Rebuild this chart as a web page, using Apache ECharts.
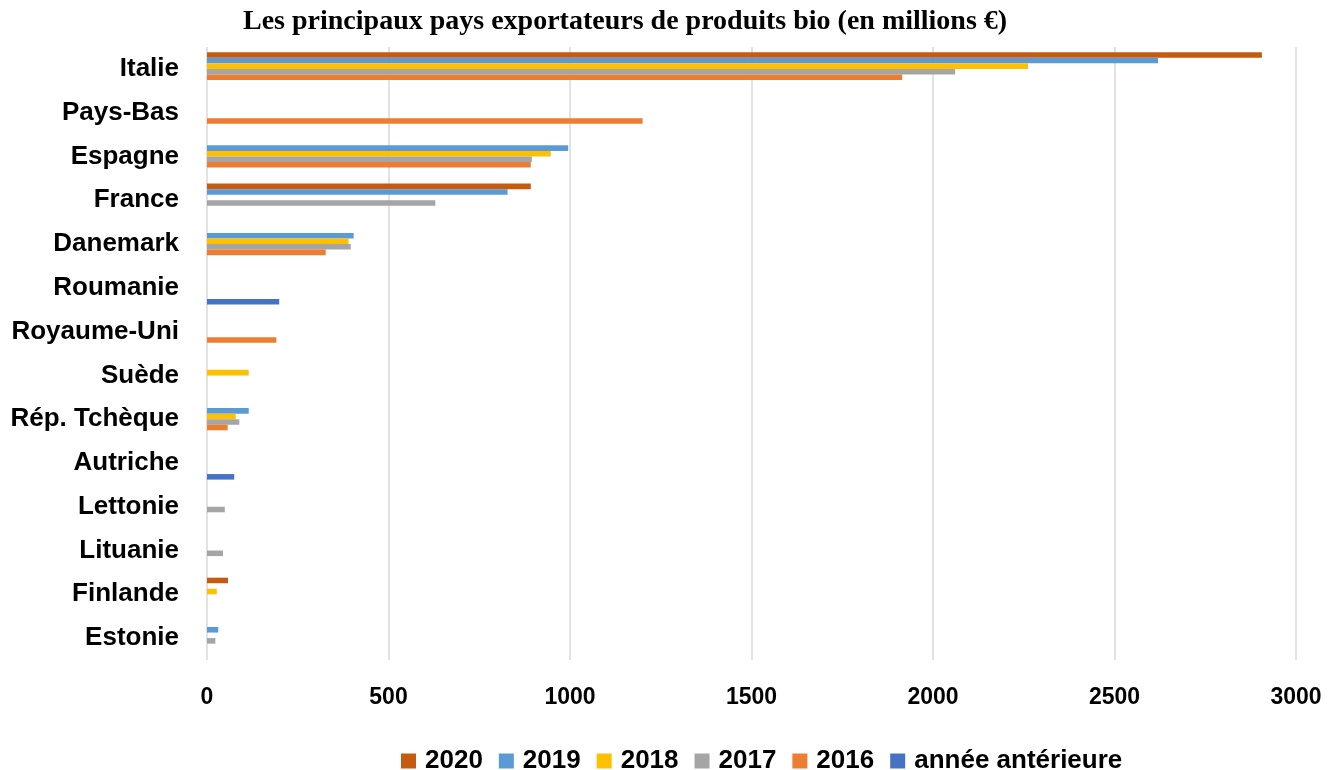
<!DOCTYPE html>
<html>
<head>
<meta charset="utf-8">
<script src="https://cdn.jsdelivr.net/npm/echarts@6/dist/echarts.min.js"></script>
<style>
  html, body { margin: 0; padding: 0; background: #fff; }
  #main { width: 1342px; height: 770px; }
</style>
</head>
<body>
<div id="main"></div>
<script>
// categories, top to bottom
var countries = ['Italie', 'Pays-Bas', 'Espagne', 'France', 'Danemark', 'Roumanie', 'Royaume-Uni',
  'Suède', 'Rép. Tchèque', 'Autriche', 'Lettonie', 'Lituanie', 'Finlande', 'Estonie'];

var seriesNames = ['2020', '2019', '2018', '2017', '2016', 'année antérieure'];
var seriesColors = ['#c55a11', '#5b9bd5', '#ffc000', '#a5a5a5', '#ed7d31', '#4472c4'];

// values in millions €, null = no bar
var v2020 = [2906, null, null, 892, null, null, null, null, null, null, null, null, 58, null];
var v2019 = [2620, null, 995, 828, 404, null, null, null, 115, null, null, null, null, 31];
var v2018 = [2262, null, 947, null, 390, null, null, 115, 79, null, null, null, 27, null];
var v2017 = [2061, null, 895, 629, 396, null, null, null, 89, null, 49, 44, null, 23];
var v2016 = [1915, 1200, 892, null, 327, null, 191, null, 57, null, null, null, null, null];
var vAnt  = [null, null, null, null, null, 199, null, null, null, 75, null, null, null, null];

var xTicks = [0, 500, 1000, 1500, 2000, 2500, 3000];

var seriesData = [v2020, v2019, v2018, v2017, v2016, vAnt];

var myChart = echarts.init(document.getElementById('main'));

var labelFont = "'Liberation Sans', Arial, sans-serif";

var series = seriesNames.map(function (name, i) {
  return {
    name: name,
    type: 'bar',
    data: seriesData[i],
    itemStyle: { color: seriesColors[i] },
    barGap: 0,
    barCategoryGap: '24%',
    animation: false
  };
});

var option = {
  backgroundColor: '#fff',
  title: {
    text: 'Les principaux pays exportateurs de produits bio (en millions €)',
    left: 238,
    top: 3,
    textStyle: {
      fontFamily: "'Liberation Serif', 'DejaVu Serif', serif",
      fontWeight: 'bold',
      fontSize: 28,
      color: '#000'
    }
  },
  legend: {
    data: seriesNames,
    left: 396,
    top: 743,
    itemWidth: 15,
    itemHeight: 15,
    itemGap: 16,
    icon: 'rect',
    textStyle: {
      fontFamily: labelFont,
      fontWeight: 'bold',
      fontSize: 26,
      color: '#000',
      padding: [0, 0, 0, 4]
    }
  },
  grid: {
    left: 207,
    right: 46,
    top: 47,
    bottom: 110,
    containLabel: false
  },
  xAxis: {
    type: 'value',
    min: xTicks[0],
    max: xTicks[xTicks.length - 1],
    interval: 500,
    axisLine: { show: false },
    axisTick: { show: false },
    splitLine: { show: true, lineStyle: { color: '#d9d9d9', width: 1.5 } },
    axisLabel: {
      margin: 26,
      formatter: function (v) { return String(v); },
      fontFamily: labelFont,
      fontWeight: 'bold',
      fontSize: 23,
      color: '#000'
    }
  },
  yAxis: {
    type: 'category',
    data: countries,
    inverse: true,
    axisLine: { show: false },
    axisTick: { show: false },
    axisLabel: {
      margin: 28,
      fontFamily: labelFont,
      fontWeight: 'bold',
      fontSize: 26,
      color: '#000'
    }
  },
  series: series
};

myChart.setOption(option);
</script>
</body>
</html>
